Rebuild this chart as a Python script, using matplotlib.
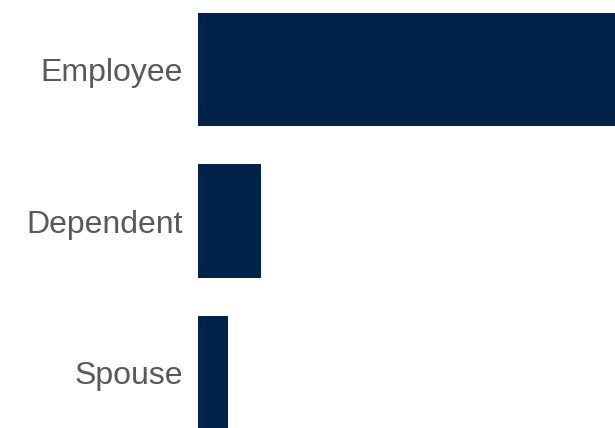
import matplotlib
matplotlib.use("Agg")
import matplotlib.pyplot as plt

# данные (Employee упирается в правый край)
categories = ["Employee", "Dependent", "Spouse"]
values = [100, 15.1, 7.2]

plt.rcParams['font.family'] = ['Liberation Sans', 'DejaVu Sans']

fig = plt.figure(figsize=(6.15, 4.28), dpi=100)
ax = fig.add_axes([198 / 615, 0, 1 - 198 / 615, 1])

positions = list(range(len(categories)))
ax.barh(positions, values, height=0.75, color='#012249')

ax.set_xlim(0, 100)
ax.set_ylim(2.366, -0.459)
ax.set_yticks(positions)
ax.set_yticklabels(categories, fontsize=23, color='#595959')
ax.tick_params(axis='y', length=0, pad=10.8)
ax.set_xticks([])
for s in ax.spines.values():
    s.set_visible(False)

fig.savefig("out.png", dpi=100)
